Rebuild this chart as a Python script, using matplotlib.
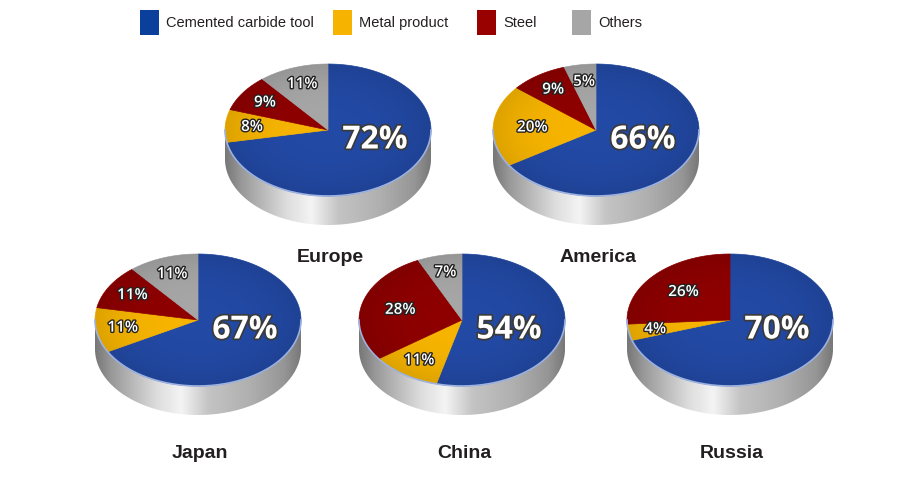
import numpy as np
import matplotlib
matplotlib.use('Agg')
import matplotlib.pyplot as plt
from matplotlib.patches import Polygon, Rectangle, Ellipse
from matplotlib.colors import LinearSegmentedColormap
import matplotlib.patheffects as pe

# data (percent per region)
regions = ['Europe', 'America', 'Japan', 'China', 'Russia']
cemented = [72, 66, 67, 54, 70]
metal = [8, 20, 11, 11, 4]
steel = [9, 9, 11, 28, 26]
others = [11, 5, 11, 7, 0]

categories = ['Cemented carbide tool', 'Metal product', 'Steel', 'Others']
colors = ['#2249a4', '#f6b400', '#8e0000', '#a6a6a6']
legend_colors = ['#0a3f9c', '#f6b400', '#990000', '#a6a6a6']

# layout in pixels (figure is 924 x 487)
centers = [(328, 130), (596, 130), (198, 320), (462, 320), (730, 320)]
label_y = [257, 257, 453, 453, 453]
A, B, DEPTH = 103, 66, 29

metal_cmap = LinearSegmentedColormap.from_list('metal', [
    (0.0, '#777777'), (0.08, '#999999'), (0.3, '#dddddd'), (0.42, '#f4f4f4'),
    (0.55, '#c4c4c4'), (0.75, '#b0b0b0'), (0.92, '#969696'), (1.0, '#787878')])

fig = plt.figure(figsize=(9.24, 4.87), dpi=100)
ax = fig.add_axes([0, 0, 1, 1])
ax.axis('off')


def draw_pie(cx, cy, values):
    # metallic side of the cylinder
    t = np.linspace(np.pi, 2 * np.pi, 200)
    xs = cx + A * np.cos(t)
    ys = cy - B * np.sin(t)
    pts = np.vstack([np.column_stack([xs, ys]),
                     np.column_stack([xs[::-1], ys[::-1] + DEPTH])])
    side = Polygon(pts, closed=True, facecolor='none', edgecolor='none')
    ax.add_patch(side)
    grad = np.linspace(0, 1, 256).reshape(1, -1)
    im = ax.imshow(grad, extent=[cx - A, cx + A, cy + B + DEPTH, cy], cmap=metal_cmap,
                   aspect='auto', zorder=1, interpolation='bilinear')
    im.set_clip_path(side)

    # top face wedges, clockwise from 12 o'clock
    start = 0.0
    for v, c in zip(values, colors):
        if v <= 0:
            continue
        ang = np.radians(90 - 3.6 * (start + np.linspace(0, v, 100)))
        wx = np.concatenate([[cx], cx + A * np.cos(ang)])
        wy = np.concatenate([[cy], cy - B * np.sin(ang)])
        ax.add_patch(Polygon(np.column_stack([wx, wy]), closed=True, facecolor=c,
                             edgecolor=c, lw=0.5, zorder=2))
        mid = np.radians(90 - 3.6 * (start + v / 2))
        if c == colors[0]:
            ax.text(cx + 47, cy + 10, f'{v}%', ha='center', va='center', fontsize=23,
                    fontweight='bold', color='white', family='Open Sans', zorder=5,
                    path_effects=[pe.withStroke(linewidth=2.5, foreground='#3a3a3a')])
        else:
            r = 0.74 if v < 15 else 0.62
            ax.text(cx + r * A * np.cos(mid), cy - r * B * np.sin(mid), f'{v}%',
                    ha='center', va='center', fontsize=11, fontweight='semibold',
                    color='white', family='Open Sans', zorder=5,
                    path_effects=[pe.withStroke(linewidth=2, foreground='#222222')])
        start += v

    # soft darkening toward the rim of the top face
    yy, xx = np.mgrid[-1:1:200j, -1:1:200j]
    rr = np.clip(np.hypot(xx, yy), 0, 1)
    shade = np.zeros((200, 200, 4))
    shade[..., 3] = 0.1 * rr ** 3
    top = Ellipse((cx, cy), 2 * A, 2 * B, facecolor='none', edgecolor='none')
    ax.add_patch(top)
    im2 = ax.imshow(shade, extent=[cx - A, cx + A, cy + B, cy - B], aspect='auto',
                    zorder=3, interpolation='bilinear')
    im2.set_clip_path(top)

    # light rim along the front edge
    ax.plot(xs, ys, color='#9db2e0', lw=1.2, zorder=4)


for i, name in enumerate(regions):
    cx, cy = centers[i]
    draw_pie(cx, cy, [cemented[i], metal[i], steel[i], others[i]])
    ax.text(cx + 2, label_y[i], name, ha='center', va='center', fontsize=14,
            fontweight='bold', color='#231f20', family='Liberation Sans')

# legend
leg_x = [140, 333, 477, 572]
for x, c, lab in zip(leg_x, legend_colors, categories):
    ax.add_patch(Rectangle((x, 10), 19, 25, facecolor=c, edgecolor='none'))
    ax.text(x + 26, 23, lab, ha='left', va='center', fontsize=10.5,
            color='#231f20', family='Liberation Sans')

ax.set_xlim(0, 924)
ax.set_ylim(487, 0)
fig.savefig('out.png', dpi=100)
